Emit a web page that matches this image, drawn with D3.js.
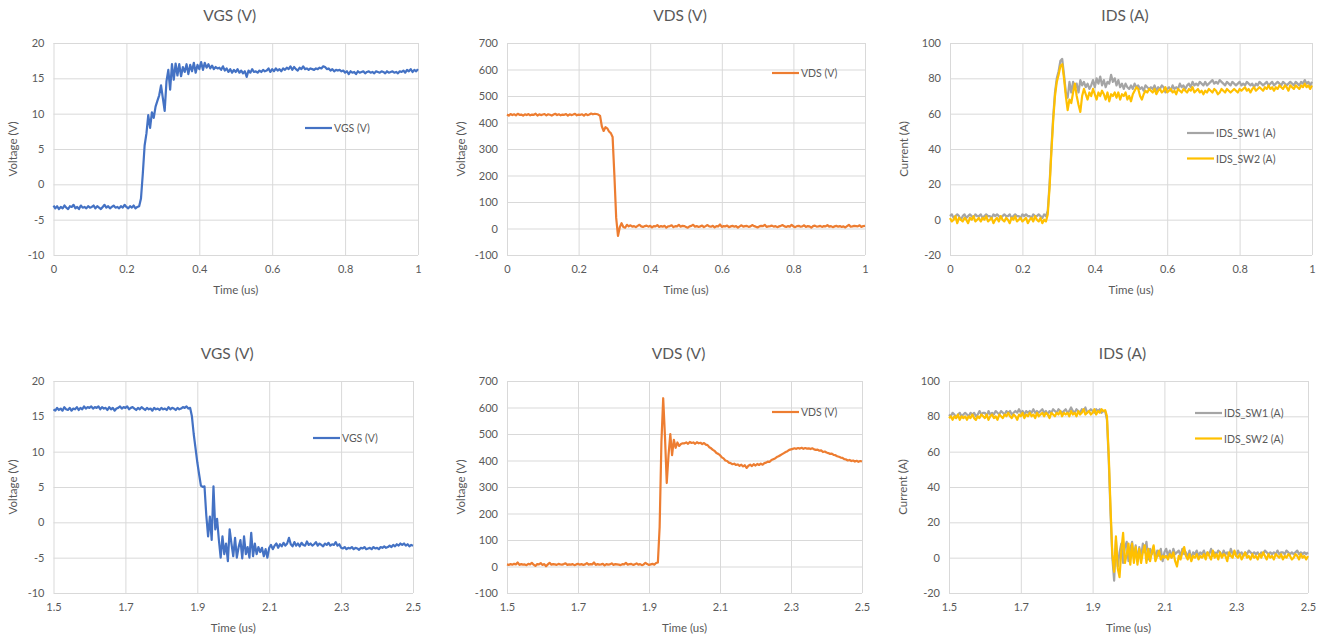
<!DOCTYPE html>
<html>
<head>
<meta charset="utf-8">
<script src="https://cdn.jsdelivr.net/npm/d3@7"></script>
<style>
  html, body { margin: 0; padding: 0; background: #ffffff; }
  svg { display: block; font-family: Lato, "Liberation Sans", sans-serif; }
</style>
</head>
<body>
<svg id="chart" width="1323" height="639"></svg>
<script>
// ---------------- DATA ----------------
const SAMPLES = 201;
const STEP = 0.005;
const turnOnStart = 0;
const turnOffStart = 1.5;

const turnOnXTicks = [0, 0.2, 0.4, 0.6, 0.8, 1];
const turnOffXTicks = [1.5, 1.7, 1.9, 2.1, 2.3, 2.5];
const vgsYTicks = [-10, -5, 0, 5, 10, 15, 20];
const vdsYTicks = [-100, 0, 100, 200, 300, 400, 500, 600, 700];
const idsYTicks = [-20, 0, 20, 40, 60, 80, 100];

// Turn-on VGS (V), t = 0 .. 1 us
const vgsOn = [
-3.0,-3.4,-3.1,-3.5,-3.2,-3.4,-3.0,-3.3,-3.5,-3.1,
-3.2,-2.9,-3.4,-3.2,-3.5,-3.0,-3.3,-3.2,-3.4,-3.1,
-3.3,-3.2,-3.0,-3.4,-3.1,-3.3,-3.5,-3.2,-2.9,-3.3,
-3.1,-3.4,-3.2,-3.0,-3.3,-3.2,-3.4,-3.1,-3.3,-2.9,
-3.2,-3.4,-3.1,-3.3,-3.0,-3.4,-3.2,-3.1,
-2.0,1.5,5.5,7.2,9.8,8.0,10.2,9.4,11.0,11.8,
12.6,14.0,12.2,10.4,14.6,16.2,13.4,17.0,14.8,17.1,
15.4,17.0,15.3,16.6,15.9,17.0,15.6,16.9,16.0,17.2,
15.8,16.9,16.3,17.3,16.2,17.2,16.5,17.0,16.4,16.8,
16.3,16.6,16.4,16.5,16.2,16.7,16.1,16.4,15.9,16.3,
15.8,16.2,15.9,16.3,15.8,16.1,15.7,16.0,15.2,16.1,
15.8,16.3,15.9,16.0,15.8,16.1,15.9,16.2,16.0,16.1,
16.4,15.9,16.3,16.0,16.4,16.1,16.3,16.0,16.4,16.2,
16.5,16.3,16.7,16.2,16.6,16.3,16.1,16.5,16.3,16.7,
16.3,16.4,16.2,16.4,16.3,16.2,16.4,16.3,16.5,16.4,
16.7,16.6,16.3,16.4,16.1,16.3,16.0,16.2,16.1,16.2,
16.0,16.1,15.8,16.0,15.6,16.0,15.8,15.9,15.6,16.0,
15.8,15.9,16.0,15.7,15.9,16.0,15.8,15.9,15.7,16.0,
15.9,15.8,16.0,15.9,15.7,16.0,15.8,15.9,16.0,15.8,
15.9,15.7,16.0,15.9,16.1,15.8,16.2,16.0,16.3,15.9,
16.2,16.0,16.3
];

// Turn-on VDS (V)
const vdsOn = [
430,426,432,428,431,427,433,429,430,426,
431,428,432,427,430,429,433,426,431,428,
430,432,427,431,429,426,430,433,428,431,
427,430,429,432,426,431,428,430,433,427,
430,429,431,426,432,428,430,434,431,433,
432,430,
425,385,368,382,378,366,360,345,200,40,-28,5,20,6,3,14,8,
12,7,9,5,10,14,8,6,9,11,
7,10,4,9,8,13,6,9,7,10,
3,8,9,12,5,9,8,14,7,10,
9,6,3,8,10,14,7,9,6,8,
11,5,9,13,8,7,10,4,9,8,
15,6,9,8,11,5,8,10,7,9,
3,8,12,7,9,10,6,8,13,9,
7,4,8,10,9,14,6,8,9,11,
7,9,5,8,10,13,8,6,9,7,
14,8,5,9,10,7,8,12,6,9,
8,3,9,11,7,8,10,6,9,8,
13,7,9,5,8,10,7,9,6,8,
4,9,14,7,8,10,9,8,12,6,
9,10
];

// Turn-on IDS (A)
const idsSw1On = [
2,3,1,2,3,2,0,2,3,1,
2,3,2,1,3,2,2,3,1,2,
3,2,2,1,3,2,3,2,1,2,
3,2,2,3,1,2,3,2,2,1,
3,2,3,2,2,1,3,2,2,3,
2,1,3,2,
5,20,40,58,72,80,84,90,91,82,
72,69,78,72,78,74,77,72,79,76,
78,75,77,74,76,79,75,80,77,81,
76,79,75,78,77,82,78,80,76,79,
75,77,74,77,75,74,76,74,77,75,
76,74,75,73,76,75,74,
75,74,76,73,75,74,76,75,72,74,
75,73,76,74,75,74,77,75,76,74,
76,77,75,78,76,77,76,78,77,76,
78,76,77,78,79,77,78,77,79,78,
77,76,78,77,76,78,77,76,77,78,
76,77,76,78,77,76,77,75,77,76,
78,77,76,77,78,76,77,78,76,77,
78,77,76,78,77,76,77,78,77,76,
78,77,76,78,77,79,77,78,76,78
];
const idsSw2On = [
1,-1,0,2,-2,1,0,-1,1,0,
-2,1,0,2,-1,0,1,-1,1,0,
2,-1,0,1,-2,0,1,-1,2,0,
-1,1,0,-2,1,0,2,-1,0,1,
-1,0,1,-2,0,1,-1,2,0,-1,
1,-2,0,-1,
3,18,38,56,70,78,82,87,88,80,
70,62,68,66,72,77,70,65,61,70,
74,71,68,72,70,74,71,68,72,70,
73,71,68,72,67,71,70,72,69,72,
68,71,70,72,68,70,67,71,73,75,
74,70,68,71,73,72,74,
73,72,74,71,73,74,72,73,75,72,
73,74,72,73,71,74,73,72,74,73,
72,74,73,75,72,73,74,72,73,71,
73,72,74,73,72,74,73,71,72,74,
73,72,74,73,72,73,74,73,72,74,
73,74,75,73,74,72,74,75,73,74,
75,74,73,75,74,76,74,75,73,75,
74,76,75,74,76,75,73,76,75,74,
76,75,74,76,75,77,75,76,74,76
];

// Turn-off VGS (V), t = 1.5 .. 2.5 us
const vgsOff = [
16.0,15.8,16.2,15.9,16.1,15.8,16.3,16.0,15.9,16.2,
15.8,16.1,16.0,16.3,15.9,16.2,16.0,16.4,16.1,16.3,
16.2,16.4,16.1,16.3,16.2,16.4,16.0,16.3,16.1,16.2,
15.9,16.3,16.0,16.2,15.8,16.1,16.2,16.4,16.1,16.3,
16.2,16.4,16.0,16.2,16.3,16.1,15.9,16.2,16.0,16.3,
16.1,15.9,16.2,16.0,16.1,15.8,16.2,16.0,16.1,15.9,
16.2,16.0,16.1,15.9,16.3,16.0,16.2,16.1,15.9,16.2,
16.0,16.1,16.3,16.2,16.4,16.1,
16.2,15.0,12.5,10.5,8.5,6.8,5.2,5.0,5.1,1.0,
-2.0,0.8,-2.5,5.1,-1.0,0.5,-2.5,-5.0,-2.0,-4.5,
-3.0,-5.5,-1.0,-3.0,-4.8,-2.2,-5.0,-3.5,-2.5,-5.1,
-2.0,-4.5,-3.5,-5.0,-1.5,-4.8,-3.0,-4.5,-3.5,-4.2,
-3.6,-4.8,-3.8,-5.0,-3.6,-3.2,-3.8,-3.3,-3.0,-3.6,
-3.1,-3.4,-2.9,-3.3,-3.0,-2.2,-3.1,-3.4,-2.8,
-3.3,-3.0,-3.4,-2.9,-3.2,-3.3,-2.7,-3.2,-3.0,-3.3,
-3.1,-2.8,-3.3,-3.0,-3.2,-3.4,-3.0,-3.2,-2.9,-3.3,
-3.1,-3.2,-2.8,-3.3,-3.1,-3.6,-3.7,-3.5,-3.8,-3.6,
-3.7,-3.5,-3.8,-3.6,-3.7,-3.9,-3.6,-3.7,-3.5,-3.8,
-3.7,-3.6,-3.8,-3.5,-3.7,-3.6,-3.8,-3.5,-3.6,-3.4,
-3.6,-3.5,-3.3,-3.5,-3.2,-3.4,-3.1,-3.3,-3.0,-3.2,
-3.0,-3.3,-3.1,-3.4,-3.2,-3.3
];

// Turn-off VDS (V)
const vdsOff = [
8,6,9,7,10,8,15,6,9,7,
8,5,10,8,14,7,2,9,8,13,
6,9,1,8,14,7,9,8,6,10,
8,7,9,12,6,8,7,9,5,8,
10,7,9,6,8,13,7,9,8,15,
6,9,7,8,10,4,9,7,8,12,
6,9,8,7,5,9,8,14,7,9,
10,6,8,12,7,9,5,8,14,9,
6,8,10,7,13,
15,150,470,635,490,315,420,500,420,478,448,468,455,462,465,
465,468,463,470,466,468,463,469,465,467,
462,466,460,458,450,446,440,436,428,425,
420,412,408,400,398,392,390,386,388,383,
385,380,384,378,382,372,380,384,379,386,
381,387,383,388,384,390,392,396,395,402,
405,408,413,416,420,424,428,432,435,440,
442,444,446,444,447,445,448,444,447,445,
446,443,446,442,440,441,437,438,432,434,
430,428,425,426,421,420,416,414,411,410,
405,404,400,402,398,400,396,399,395,398,
396
];

// Turn-off IDS (A)
const idsSw1Off = [
81,80,82,81,79,81,82,80,81,82,
81,80,82,81,82,80,81,83,81,82,
82,80,83,81,82,81,83,82,81,83,
82,81,83,82,83,81,82,83,82,84,
82,83,81,83,82,83,82,84,82,83,
82,83,84,82,83,81,83,82,84,83,
82,84,83,82,83,84,82,83,85,83,
82,84,83,82,84,83,85,82,83,84,
83,82,84,83,84,82,83,
83,78,55,25,0,-13,10,-5,3,8,
-3,6,9,-2,5,9,0,7,-2,6,
0,8,3,9,-1,5,2,6,-1,4,
1,5,-2,3,5,1,4,0,5,2,
3,4,1,5,2,3,0,4,-1,3,
2,4,1,3,
2,4,1,3,2,5,1,3,2,4,
3,1,4,2,3,1,5,2,3,1,
4,2,3,1,3,2,4,3,2,3,
2,3,1,3,2,4,3,2,3,2,
3,2,4,2,3,3,2,4,3,2,
3,2,3,4,2,3,2,3,2,3
];
const idsSw2Off = [
79,80,78,80,79,81,78,80,79,80,
78,80,79,81,79,78,80,79,81,80,
79,81,78,80,81,79,80,78,81,80,
79,81,80,82,80,79,81,80,78,81,
80,82,79,81,80,82,80,81,79,82,
80,81,82,80,82,81,79,82,81,80,
82,81,83,80,82,81,82,80,83,81,
82,80,83,81,82,84,81,82,83,81,
82,84,81,83,82,84,83,
83.5,80,58,28,2,-8,12,-6,-11,4,
14,-3,2,8,-4,8,-3,6,-4,5,
-3,3,7,-3,5,-2,3,7,-2,1,
4,-1,1,0,1,-1,2,0,3,-2,
-5,1,-1,3,6,1,-1,2,-2,1,
0,2,-1,1,
0,2,-1,3,1,-1,4,0,2,-1,
3,0,2,1,-2,3,1,0,4,1,
0,2,-1,1,3,0,1,-1,2,0,
1,-1,2,0,3,1,-1,2,0,1,
-1,2,1,0,2,-1,1,0,2,1,
-1,0,2,1,-1,2,0,1,-1,1
];

const turnOnTime = d3.range(SAMPLES).map(i => +(turnOnStart + i * STEP).toFixed(4));
const turnOffTime = d3.range(SAMPLES).map(i => +(turnOffStart + i * STEP).toFixed(4));

// ---------------- STYLE / LAYOUT ----------------
const C_VGS = "#4472C4", C_VDS = "#ED7D31", C_SW1 = "#A5A5A5", C_SW2 = "#FFC000";
const TEXT = "#595959", GRID = "#D9D9D9";

const panels = [
  { title: "VGS (V)", yLabel: "Voltage (V)", left: 53.5, right: 418, top: 43, bottom: 255,
    time: turnOnTime, xTicks: turnOnXTicks, yTicks: vgsYTicks, yDomain: [-10, 20],
    series: [{ name: "VGS (V)", values: vgsOn, color: C_VGS }],
    legend: { x: 305, y: 128 } },
  { title: "VDS (V)", yLabel: "Voltage (V)", left: 507, right: 865, top: 43, bottom: 255,
    time: turnOnTime, xTicks: turnOnXTicks, yTicks: vdsYTicks, yDomain: [-100, 700],
    series: [{ name: "VDS (V)", values: vdsOn, color: C_VDS }],
    legend: { x: 772, y: 73 } },
  { title: "IDS (A)", yLabel: "Current (A)", left: 950, right: 1312, top: 43, bottom: 255,
    time: turnOnTime, xTicks: turnOnXTicks, yTicks: idsYTicks, yDomain: [-20, 100],
    series: [{ name: "IDS_SW1 (A)", values: idsSw1On, color: C_SW1 },
             { name: "IDS_SW2 (A)", values: idsSw2On, color: C_SW2 }],
    legend: { x: 1187, y: 133 } },
  { title: "VGS (V)", yLabel: "Voltage (V)", left: 53.5, right: 413, top: 381, bottom: 593,
    time: turnOffTime, xTicks: turnOffXTicks, yTicks: vgsYTicks, yDomain: [-10, 20],
    series: [{ name: "VGS (V)", values: vgsOff, color: C_VGS }],
    legend: { x: 313, y: 438 } },
  { title: "VDS (V)", yLabel: "Voltage (V)", left: 507, right: 862, top: 381, bottom: 593,
    time: turnOffTime, xTicks: turnOffXTicks, yTicks: vdsYTicks, yDomain: [-100, 700],
    series: [{ name: "VDS (V)", values: vdsOff, color: C_VDS }],
    legend: { x: 772, y: 412 } },
  { title: "IDS (A)", yLabel: "Current (A)", left: 949, right: 1308, top: 381, bottom: 593,
    time: turnOffTime, xTicks: turnOffXTicks, yTicks: idsYTicks, yDomain: [-20, 100],
    series: [{ name: "IDS_SW1 (A)", values: idsSw1Off, color: C_SW1 },
             { name: "IDS_SW2 (A)", values: idsSw2Off, color: C_SW2 }],
    legend: { x: 1195, y: 413 } }
];

const svg = d3.select("#chart");

panels.forEach((p, pi) => {
  const g = svg.append("g");
  const x = d3.scaleLinear().domain(d3.extent(p.xTicks)).range([p.left, p.right]);
  const y = d3.scaleLinear().domain(p.yDomain).range([p.bottom, p.top]);
  const w = p.right - p.left, h = p.bottom - p.top;

  // Y axis with grid
  const ya = g.append("g").attr("transform", `translate(${p.left},0)`)
    .call(d3.axisLeft(y).tickValues(p.yTicks).tickSize(-w).tickPadding(9).tickFormat(d => String(d)));
  ya.select(".domain").remove();
  ya.selectAll("line").attr("stroke", GRID).attr("stroke-width", 1);
  ya.selectAll("text").attr("fill", TEXT).style("font-size", "11px").style("font-family", "Lato, sans-serif");

  // X axis with grid
  const xa = g.append("g").attr("transform", `translate(0,${p.bottom})`)
    .call(d3.axisBottom(x).tickValues(p.xTicks).tickSize(-h).tickPadding(10).tickFormat(d => String(d)));
  xa.select(".domain").remove();
  xa.selectAll("line").attr("stroke", GRID).attr("stroke-width", 1);
  xa.selectAll("text").attr("fill", TEXT).style("font-size", "11px").style("font-family", "Lato, sans-serif");

  // Title
  g.append("text").attr("x", (p.left + p.right) / 2 - 6).attr("y", p.top - 22)
    .attr("text-anchor", "middle").attr("fill", TEXT)
    .style("font-size", "15.5px").text(p.title);

  // Axis titles
  g.append("text").attr("x", (p.left + p.right) / 2).attr("y", p.bottom + 39)
    .attr("text-anchor", "middle").attr("fill", TEXT)
    .style("font-size", "11.5px").text("Time (us)");
  const yl = pi % 3 === 0 ? p.left - 37 : p.left - 42;
  g.append("text").attr("transform", `translate(${yl},${(p.top + p.bottom) / 2}) rotate(-90)`)
    .attr("text-anchor", "middle").attr("fill", TEXT)
    .style("font-size", "11.5px").text(p.yLabel);

  // Lines
  p.series.forEach(s => {
    const line = d3.line()
      .x((d, i) => x(p.time[i]))
      .y(d => y(d));
    g.append("path").datum(s.values)
      .attr("d", line)
      .attr("fill", "none")
      .attr("stroke", s.color)
      .attr("stroke-width", 2.2)
      .attr("stroke-linejoin", "round");
  });

  // Legend
  p.series.forEach((s, si) => {
    const ly = p.legend.y + si * 25.5;
    g.append("line").attr("x1", p.legend.x).attr("x2", p.legend.x + 27)
      .attr("y1", ly).attr("y2", ly).attr("stroke", s.color).attr("stroke-width", 2.2);
    g.append("text").attr("x", p.legend.x + 29).attr("y", ly)
      .attr("dominant-baseline", "central").attr("fill", TEXT)
      .style("font-size", "10.5px").text(s.name);
  });
});
</script>
</body>
</html>
